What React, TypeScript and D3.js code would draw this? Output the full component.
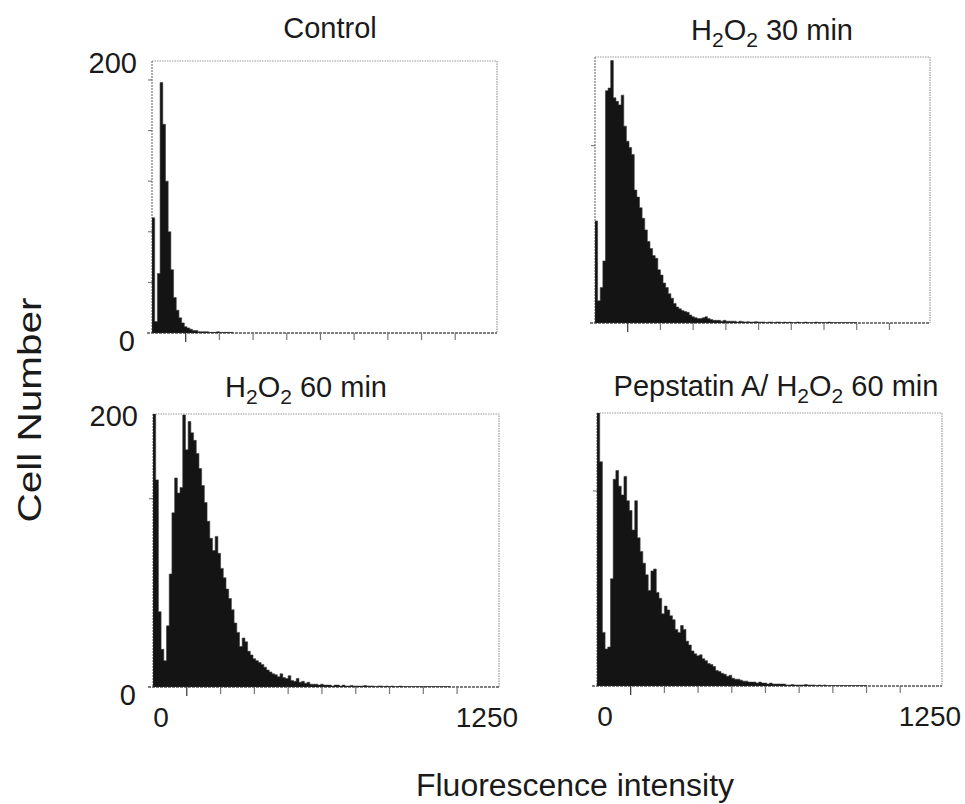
import React from "react";
import * as d3 from "d3";

// ---------- data (cell counts per 10-channel bin) ----------
const BIN_WIDTH = 10;
const X_MAX = 1280;
const xTickValues = [125, 250, 375, 500, 625, 750, 875, 1000, 1125];
const xLabelValues = [0, 1250];

const controlCounts = [
  91, 9, 47, 198, 165, 120, 80, 50, 28, 18, 12, 8, 5, 4, 3, 2, 2, 1, 1, 1,
  1, 0.5, 0.5, 0.5, 1, 0.5, 0.5, 0.5, 0.5, 0.5,
];

const h2o2_30Counts = [
  115, 25, 40, 70, 262, 265, 296, 254, 250, 246, 257, 222, 205, 198, 190, 150,
  142, 130, 118, 105, 92, 84, 76, 73, 60, 54, 45, 40, 33, 28, 22, 18, 16, 14,
  13, 12, 9, 7, 6, 5, 5, 6, 7, 5, 4, 3, 3, 3, 2, 3, 2, 2, 2, 2, 1, 2, 1.5, 1,
  1.5, 1, 1, 1.5, 1, 1, 1, 0.5, 1, 1, 0.5, 1, 1, 0.5, 1, 0.5, 1, 0.5, 0.5, 1,
  0.5, 0.5, 1, 0.5, 0.5, 0.5, 1, 0.5, 0.5, 0.5, 0.5, 1, 0.5, 0.5, 0.5, 0.5,
  0.5, 0.5, 0.5, 0.5, 0.5, 0.5,
];

const h2o2_60Counts = [
  290, 220, 80, 40, 28, 65, 120, 185, 222, 206, 212, 289, 252, 282, 270, 262,
  248, 232, 214, 196, 176, 158, 145, 160, 142, 126, 116, 104, 94, 82, 68, 58,
  43, 52, 48, 38, 34, 30, 28, 26, 24, 21, 18, 16, 14, 13, 11, 14, 10, 9, 12, 7,
  6, 9, 5, 6, 4, 5, 3, 3, 3, 2, 3, 2, 2, 2, 1, 2, 2, 1, 2, 1, 1, 1.5, 1, 1, 1,
  1, 1.5, 1, 1, 1, 0.5, 1, 1, 0.5, 1, 0.5, 1, 0.5, 0.5, 1, 0.5, 0.5, 0.5, 0.5,
  0.5, 0.5, 0.5, 0.5, 0.5, 0.5, 0.5, 0.5, 0.5, 0.5, 0.5, 0.5, 0.5, 0.5,
];

const pepstatinCounts = [
  280, 230, 55, 38, 40, 110, 212, 221, 205, 196, 215, 190, 180, 160, 190, 152,
  138, 126, 114, 98, 118, 120, 96, 90, 74, 82, 78, 72, 68, 58, 55, 62, 58, 46,
  42, 36, 33, 31, 32, 28, 26, 23, 22, 20, 16, 15, 13, 12, 10, 11, 8, 7, 7, 6, 5,
  5, 4, 4, 4, 3, 4, 3, 3, 2, 3, 2, 2, 2, 2, 2, 1, 1, 1.5, 1, 1, 1, 1, 1.5, 1, 1,
  1, 0.5, 1, 0.5, 1, 0.5, 0.5, 0.5, 0.5, 0.5, 0.5, 0.5, 0.5, 0.5, 0.5, 0.5,
  0.5, 0.5, 0.5, 0.5,
];

const controlYTicks = [40, 80, 120, 160, 200];
const h2o2_30YTicks = [200];
const h2o2_60YTicks = [200];
const pepstatinYTicks = [200];

type Part = { t: string; sub?: boolean };
const titleControl: Part[] = [{ t: "Control" }];
const title30: Part[] = [{ t: "H" }, { t: "2", sub: true }, { t: "O" }, { t: "2", sub: true }, { t: " 30 min" }];
const title60: Part[] = [{ t: "H" }, { t: "2", sub: true }, { t: "O" }, { t: "2", sub: true }, { t: " 60 min" }];
const titlePep: Part[] = [
  { t: "Pepstatin A/ H" }, { t: "2", sub: true }, { t: "O" }, { t: "2", sub: true }, { t: " 60 min" },
];

// ---------- layout ----------
const FONT = "'Liberation Sans', Arial, Helvetica, sans-serif";

const panels = [
  { id: "p1", title: titleControl, counts: controlCounts, yMax: 215, yTicks: controlYTicks,
    x0: 152, x1: 497, y0: 61, y1: 333, tx: 330, ty: 38, yLabels: true, xLabels: false },
  { id: "p2", title: title30, counts: h2o2_30Counts, yMax: 300, yTicks: h2o2_30YTicks,
    x0: 595, x1: 930, y0: 57, y1: 323, tx: 772, ty: 40, yLabels: false, xLabels: false },
  { id: "p3", title: title60, counts: h2o2_60Counts, yMax: 290, yTicks: h2o2_60YTicks,
    x0: 153, x1: 499, y0: 414, y1: 687, tx: 306, ty: 397, yLabels: true, xLabels: true },
  { id: "p4", title: titlePep, counts: pepstatinCounts, yMax: 280, yTicks: pepstatinYTicks,
    x0: 597, x1: 942, y0: 413, y1: 686, tx: 776, ty: 396, yLabels: false, xLabels: true },
];

function Title({ parts, x, y }: { parts: Part[]; x: number; y: number }) {
  return (
    <text x={x} y={y} textAnchor="middle" fontFamily={FONT} fontSize={29} fill="#1a1a1a">
      {parts.map((p, i) =>
        p.sub ? (
          <tspan key={i} fontSize={21} dy={7}>{p.t}</tspan>
        ) : (
          <tspan key={i} dy={i > 0 && parts[i - 1].sub ? -7 : 0}>{p.t}</tspan>
        )
      )}
    </text>
  );
}

function Panel({ p }: { p: (typeof panels)[number] }) {
  const x = d3.scaleLinear().domain([0, X_MAX]).range([p.x0, p.x1]);
  const y = d3.scaleLinear().domain([0, p.yMax]).range([p.y1, p.y0]);
  const pts: [number, number][] = p.counts.map((c, i) => [i * BIN_WIDTH, c]);
  pts.push([p.counts.length * BIN_WIDTH, 0]);
  const area = d3
    .area<[number, number]>()
    .x((d) => x(d[0]))
    .y0(y(0))
    .y1((d) => y(Math.min(d[1], p.yMax)))
    .curve(d3.curveStepAfter);

  return (
    <g>
      <defs>
        <clipPath id={`clip-${p.id}`}>
          <rect x={p.x0} y={p.y0} width={p.x1 - p.x0} height={p.y1 - p.y0} />
        </clipPath>
      </defs>
      <path
        d={`M${p.x0},${p.y0}H${p.x1}V${p.y1}`}
        fill="none" stroke="#9a9a9a" strokeWidth={1.2} strokeDasharray="1.5 1"
      />
      <path d={`M${p.x0},${p.y0}V${p.y1}`} fill="none" stroke="#777" strokeWidth={1.2} strokeDasharray="2 1" />
      <path d={`M${p.x0 - 5},${p.y1}H${p.x1}`} fill="none" stroke="#555" strokeWidth={1.4} strokeDasharray="3 1" />
      <path d={area(pts) || ""} fill="#141414" stroke="#3a3a3a" strokeWidth={0.6} clipPath={`url(#clip-${p.id})`} />
      {xTickValues.map((v, i) => (
        <line key={v} x1={x(v)} x2={x(v)} y1={p.y1} y2={p.y1 + (i === 0 ? 9 : 7)}
          stroke={i === 0 ? "#333" : "#777"} strokeWidth={1.2} />
      ))}
      {p.yTicks.map((v) => (
        <line key={v} x1={p.x0 - 4} x2={p.x0} y1={y(v)} y2={y(v)} stroke="#666" strokeWidth={1} />
      ))}
      <Title parts={p.title} x={p.tx} y={p.ty} />
      {p.yLabels && (
        <g fontFamily={FONT} fontSize={29} fill="#1a1a1a" textAnchor="end">
          <text x={p.x0 - 15} y={p.y0 + 12}>200</text>
          <text x={p.x0 - 17} y={p.y1 + 18}>0</text>
        </g>
      )}
      {p.xLabels && (
        <g fontFamily={FONT} fontSize={28} fill="#1a1a1a" textAnchor="middle">
          {xLabelValues.map((v) => (
            <text key={v} x={x(v) + (v === 0 ? 8 : -4)} y={p.y1 + 40}>{v}</text>
          ))}
        </g>
      )}
    </g>
  );
}

export default function App() {
  return (
    <svg
      width={965}
      height={804}
      viewBox="0 0 965 804"
      style={{ position: "absolute", left: 0, top: 0, background: "#fff" }}
    >
      <rect x={0} y={0} width={965} height={804} fill="#fff" />
      {panels.map((p) => (
        <Panel key={p.id} p={p} />
      ))}
      <text
        transform="translate(41,410) rotate(-90)"
        textAnchor="middle"
        fontFamily={FONT}
        fontSize={33}
        textLength={225}
        lengthAdjust="spacingAndGlyphs"
        fill="#1a1a1a"
      >
        Cell Number
      </text>
      <text
        x={575}
        y={796}
        textAnchor="middle"
        fontFamily={FONT}
        fontSize={31}
        textLength={318}
        lengthAdjust="spacingAndGlyphs"
        fill="#1a1a1a"
      >
        Fluorescence intensity
      </text>
    </svg>
  );
}
